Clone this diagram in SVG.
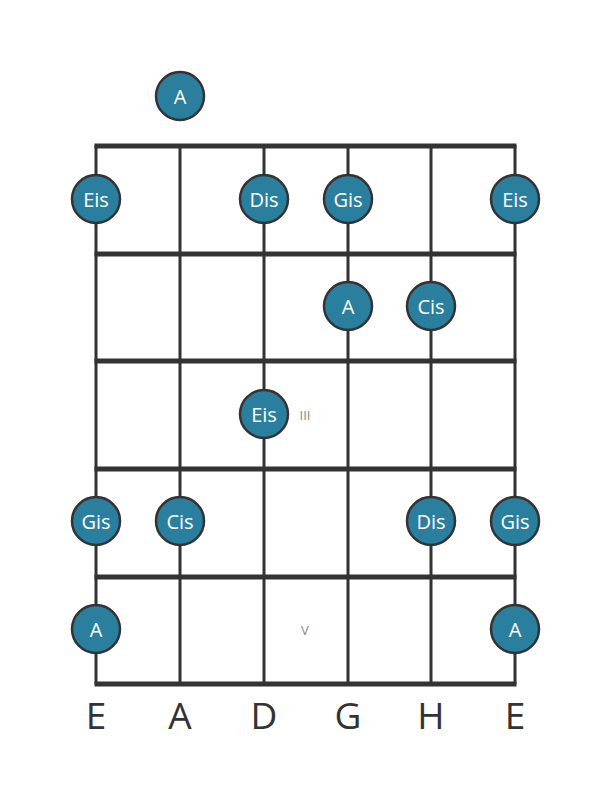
<svg xmlns="http://www.w3.org/2000/svg" width="611" height="801" viewBox="0 0 611 801">
<style>
.str{stroke:#333;stroke-width:3;fill:none}
.fret{stroke:#333;stroke-width:5;fill:none}
.dot circle{fill:#2a7f9e;stroke:#333;stroke-width:2.5}
.dot text{fill:#fff;font-family:"Open Sans",sans-serif;font-size:20px;text-anchor:middle;dominant-baseline:central}
.lbl{fill:#333;font-family:"Open Sans",sans-serif;font-size:37px;text-anchor:middle}
.pos{fill:#888;font-family:"Open Sans",sans-serif;font-size:13px;text-anchor:middle;dominant-baseline:central}
</style>
<rect width="611" height="801" fill="#fff"/>
<g id="connectors">
<line class="str" x1="96" y1="145" x2="96" y2="684"/>
<line class="str" x1="180" y1="145" x2="180" y2="684"/>
<line class="str" x1="264" y1="145" x2="264" y2="684"/>
<line class="str" x1="348" y1="145" x2="348" y2="684"/>
<line class="str" x1="431" y1="145" x2="431" y2="684"/>
<line class="str" x1="515" y1="145" x2="515" y2="684"/>
<line class="fret" x1="94.5" y1="146" x2="516.5" y2="146"/>
<line class="fret" x1="94.5" y1="254" x2="516.5" y2="254"/>
<line class="fret" x1="94.5" y1="361" x2="516.5" y2="361"/>
<line class="fret" x1="94.5" y1="469" x2="516.5" y2="469"/>
<line class="fret" x1="94.5" y1="577" x2="516.5" y2="577"/>
<line class="fret" x1="94.5" y1="684" x2="516.5" y2="684"/>
</g>
<g id="n-open-A" class="dot"><circle cx="180" cy="96" r="24"/><text x="180" y="96">A</text></g>
<g id="n-1-1" class="dot"><circle cx="96" cy="199" r="24"/><text x="96" y="199">Eis</text></g>
<g id="n-1-3" class="dot"><circle cx="264" cy="199" r="24"/><text x="264" y="199">Dis</text></g>
<g id="n-1-4" class="dot"><circle cx="348" cy="199" r="24"/><text x="348" y="199">Gis</text></g>
<g id="n-1-6" class="dot"><circle cx="515" cy="199" r="24"/><text x="515" y="199">Eis</text></g>
<g id="n-2-4" class="dot"><circle cx="348" cy="306" r="24"/><text x="348" y="306">A</text></g>
<g id="n-2-5" class="dot"><circle cx="431" cy="306" r="24"/><text x="431" y="306">Cis</text></g>
<g id="n-3-3" class="dot"><circle cx="264" cy="414" r="24"/><text x="264" y="414">Eis</text></g>
<g id="n-4-1" class="dot"><circle cx="96" cy="521" r="24"/><text x="96" y="521">Gis</text></g>
<g id="n-4-2" class="dot"><circle cx="180" cy="521" r="24"/><text x="180" y="521">Cis</text></g>
<g id="n-4-5" class="dot"><circle cx="431" cy="521" r="24"/><text x="431" y="521">Dis</text></g>
<g id="n-4-6" class="dot"><circle cx="515" cy="521" r="24"/><text x="515" y="521">Gis</text></g>
<g id="n-5-1" class="dot"><circle cx="96" cy="629" r="24"/><text x="96" y="629">A</text></g>
<g id="n-5-6" class="dot"><circle cx="515" cy="629" r="24"/><text x="515" y="629">A</text></g>
<g id="fret-markers">
<text class="pos" x="305" y="415">III</text>
<text class="pos" x="305" y="630">V</text>
</g>
<g id="string-labels">
<text class="lbl" x="96" y="729">E</text>
<text class="lbl" x="180" y="729">A</text>
<text class="lbl" x="264" y="729">D</text>
<text class="lbl" x="348" y="729">G</text>
<text class="lbl" x="431" y="729">H</text>
<text class="lbl" x="515" y="729">E</text>
</g>
</svg>
